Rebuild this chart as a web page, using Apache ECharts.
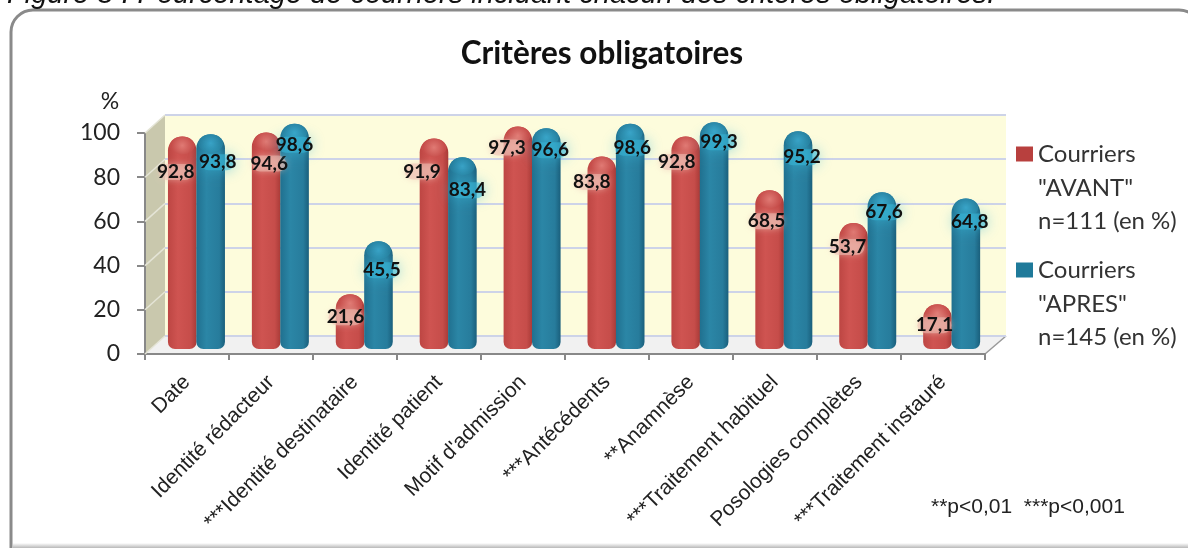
<!DOCTYPE html>
<html><head><meta charset="utf-8">
<style>html,body{margin:0;padding:0;background:#fff}#c{width:1188px;height:548px}</style>
<script src="https://cdn.jsdelivr.net/npm/echarts@6/dist/echarts.min.js"></script>
</head><body><div id="c"></div>
<script>
const categories=['Date','Identité rédacteur','***Identité destinataire','Identité patient',"Motif d'admission",'***Antécédents','**Anamnèse','***Traitement habituel','Posologies complètes','***Traitement instauré'];
const avant=[92.8,94.6,21.6,91.9,97.3,83.8,92.8,68.5,53.7,17.1];
const apres=[93.8,98.6,45.5,83.4,96.6,98.6,99.3,95.2,67.6,64.8];
const avantNudge=[[-6.5,34.5],[3,30],[-4.5,22],[-12,32],[-11,20],[-10,24.5],[-9,24.5],[-3,30],[-6,23],[-3,20]];
const apresNudge=[[7,27],[0,20],[3.5,28],[5,32],[4,21],[2,23],[5,19],[4,25],[2,19],[4,22]];
const avantName='Courriers "AVANT" n=111 (en %)';
const apresName='Courriers "APRES" n=145 (en %)';
const yTicks=[0,20,40,60,80,100];
const fmt=v=>String(v).replace('.',',');
const cyl=(a,b,c,d)=>({type:'linear',x:0,y:0,x2:1,y2:0,colorStops:[{offset:0,color:a},{offset:.35,color:b},{offset:.8,color:c},{offset:1,color:d}]});
const RED=cyl('#bd4643','#cf5451','#c64d4a','#a93b38');
const BLUE=cyl('#20708f','#2b86a6','#277c9c','#1a5f7c');
function cylinder(side,fill,capHi,capLo){
 return function(params,api){
  const i=api.value(0),v=api.value(1);
  const c=api.coord([i,v]),b=api.coord([i,0]);
  const w=14.3,cx=c[0]+side*14.2,top=c[1]-1,bot=b[1]+6;
  return {type:'group',children:[
   {type:'rect',shape:{x:cx-w,y:top,width:2*w,height:bot-top,r:[14,14,7,7]},style:{fill:fill}},
   {type:'ellipse',shape:{cx:cx,cy:top+9,rx:w-2,ry:9},style:{fill:{type:'radial',x:.5,y:.5,r:.6,colorStops:[{offset:0,color:capHi},{offset:1,color:capLo}]}}}
  ]};
 };
}
function valueLabel(side,nudge,glow,opacity,blur){
 return function(params,api){
  const i=api.value(0),v=api.value(1),c=api.coord([i,v]),n=nudge[i];
  const x=c[0]+side*14.2+n[0],y=c[1]+n[1];
  return {type:'group',children:[
   {type:'rect',z2:18,shape:{x:x-17,y:y-8,width:34,height:16,r:8},style:{fill:glow,opacity:opacity,shadowColor:glow,shadowBlur:blur}},
   {type:'text',z2:20,style:{x:x,y:y,text:fmt(v),align:'center',verticalAlign:'middle',font:'bold 19px Lato',fill:'#111'}}
  ]};
 };
}
const sideWallLines=yTicks.map(t=>{
 const y0=354-t*2.21;
 return {type:'polyline',z:1,shape:{points:[[145,y0],[165,y0-18]]},style:{stroke:'#e4e4d6',fill:'none',lineWidth:1.5}};
});
const chart=echarts.init(document.getElementById('c'),null,{renderer:'canvas'});
chart.setOption({
 animation:false,
 textStyle:{fontFamily:'Lato'},
 title:{text:'Critères obligatoires',left:597,top:33,textAlign:'center',textStyle:{fontFamily:'Lato',fontWeight:'bold',fontSize:31.5,color:'#111'}},
 legend:{orient:'vertical',left:1011,top:137,itemWidth:17,itemHeight:15,itemGap:92,icon:'rect',formatter:()=>'Courriers',
  textStyle:{fontFamily:'Lato',fontSize:24,color:'#333'},data:[avantName,apresName]},
 grid:[
  {left:145,right:203,top:133,bottom:194},
  {left:165,right:182,top:115,bottom:212,show:true,backgroundColor:'#fdfcdc',borderWidth:0},
  {left:154.5,right:194.4,top:121.6,bottom:205}
 ],
 xAxis:[
  {gridIndex:0,type:'category',data:categories,axisLine:{lineStyle:{color:'#888',width:2}},axisTick:{show:true,length:6,lineStyle:{color:'#888',width:2}},
   axisLabel:{rotate:45,interval:0,margin:25,fontFamily:'Liberation Sans',fontSize:21,color:'#222'}},
  {gridIndex:1,type:'category',data:categories,show:false},
  {gridIndex:2,type:'category',data:categories,show:false}
 ],
 yAxis:[
  {gridIndex:0,type:'value',min:0,max:100,interval:20,name:'%',nameLocation:'end',nameGap:20,nameTextStyle:{fontFamily:'Lato',fontSize:23,color:'#222',padding:[0,70,0,0]},
   axisLine:{show:true,lineStyle:{color:'#888',width:2}},axisTick:{show:true,length:8,lineStyle:{color:'#888',width:2}},splitLine:{show:false},
   axisLabel:{margin:25,fontFamily:'Lato',fontSize:23,color:'#222',padding:[6,0,0,0]}},
  {gridIndex:1,type:'value',min:0,max:100,interval:20,axisLine:{show:false},axisTick:{show:false},axisLabel:{show:false},splitLine:{show:true,lineStyle:{color:'#cdd3e8',width:2}}},
  {gridIndex:2,type:'value',min:0,max:100,interval:20,show:false,splitLine:{show:false}}
 ],
 series:[
  {name:avantName,type:'custom',xAxisIndex:2,yAxisIndex:2,data:avant.map((v,i)=>[i,v]),z:5,itemStyle:{color:'#b8403e'},
   renderItem:cylinder(-1,RED,'#e07a74','#c64d4a')},
  {name:apresName,type:'custom',xAxisIndex:2,yAxisIndex:2,data:apres.map((v,i)=>[i,v]),z:6,itemStyle:{color:'#1f7a9a'},
   renderItem:cylinder(1,BLUE,'#38a2c6','#26809f')},
  {name:'valeurs avant',type:'custom',xAxisIndex:2,yAxisIndex:2,data:avant.map((v,i)=>[i,v]),z:7,
   renderItem:valueLabel(-1,avantNudge,'#eec0b4',.55,6)},
  {name:'valeurs apres',type:'custom',xAxisIndex:2,yAxisIndex:2,data:apres.map((v,i)=>[i,v]),z:8,
   renderItem:valueLabel(1,apresNudge,'#39b8d8',.55,14)}
 ],
 graphic:[
  {type:'rect',z:-1,shape:{x:11,y:10,width:1190,height:560,r:22},style:{fill:'#fff',stroke:'#8a8a8a',lineWidth:3}},
  {type:'rect',z:0,shape:{x:13,y:543,width:1175,height:5},style:{fill:{type:'linear',x:0,y:0,x2:0,y2:1,colorStops:[{offset:0,color:'#ffffff'},{offset:1,color:'#b8b8b8'}]}}},
  {type:'text',z:10,left:7,top:-20,style:{text:'Figure 8 : Pourcentage de courriers incluant chacun des critères obligatoires.',fontSize:29,fontStyle:'italic',fontFamily:'Liberation Sans',fill:'#111'}},
  {type:'polygon',z:0,shape:{points:[[145,133],[165,115],[165,336],[145,354]]},style:{fill:'#c9c8ad'}},
  {type:'polygon',z:0,shape:{points:[[145,354],[165,336],[1006,336],[985,354]]},style:{fill:'#f1f1f1'}},
  {type:'polyline',z:0,shape:{points:[[985,354],[1006,336]]},style:{stroke:'#999',fill:'none',lineWidth:1.5}},
  ...sideWallLines,
  {type:'text',z:10,left:1038,top:172,style:{text:'"AVANT"\nn=111 (en %)',fontSize:24,fontFamily:'Lato',lineHeight:33,fill:'#333'}},
  {type:'text',z:10,left:1038,top:288,style:{text:'"APRES"\nn=145 (en %)',fontSize:24,fontFamily:'Lato',lineHeight:33,fill:'#333'}},
  {type:'text',z:10,left:931,top:497,style:{text:'**p<0,01  ***p<0,001',fontSize:21,fontFamily:'Liberation Sans',fill:'#222'}}
 ]
});
</script></body></html>
